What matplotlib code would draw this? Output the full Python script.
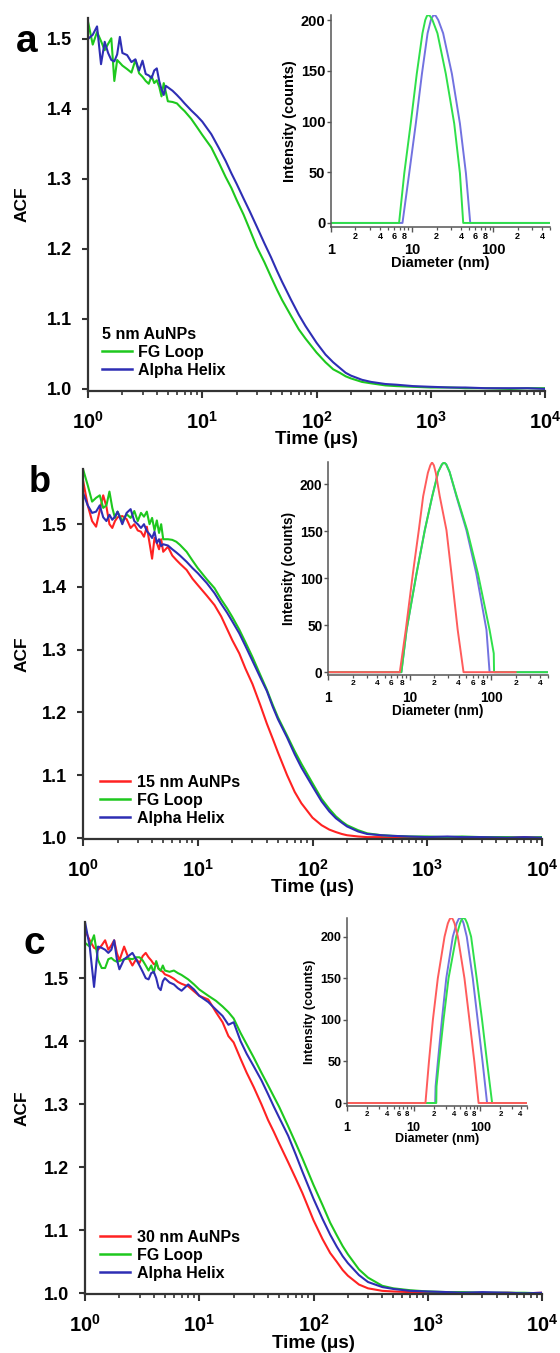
import numpy as np
import matplotlib
matplotlib.use('Agg')
import matplotlib.pyplot as plt
import matplotlib.ticker as mticker
from matplotlib.lines import Line2D

plt.rcParams['font.family'] = ['Liberation Sans', 'DejaVu Sans']
plt.rcParams['font.weight'] = 'bold'
plt.rcParams['axes.labelweight'] = 'bold'
plt.rcParams['mathtext.fontset'] = 'custom'
plt.rcParams['mathtext.rm'] = 'Liberation Sans:bold'
plt.rcParams['mathtext.bf'] = 'Liberation Sans:bold'
plt.rcParams['mathtext.it'] = 'Liberation Sans:bold'

W, H = 560, 1353

# lag time (us), shared by all ACF curves
t = [1.0, 1.1, 1.2, 1.3, 1.4, 1.5, 1.6, 1.7, 1.8, 1.9,
     2.0, 2.2, 2.4, 2.6, 2.8, 3.0, 3.2, 3.4, 3.6, 3.8,
     4.0, 4.2, 4.4, 4.6, 4.8, 5.0, 5.5, 6.0, 6.5, 7.0,
     8.0, 9.0, 10, 12, 14, 16, 18, 20, 23, 26,
     30, 35, 40, 45, 50, 60, 70, 80, 100, 120,
     140, 160, 180, 200, 250, 300, 400, 500, 700, 1000,
     1500, 2000, 3000, 5000, 7000, 10000]

# ---- panel a: 5 nm AuNPs
a_fg = [1.525, 1.492, 1.510, 1.497, 1.484, 1.493, 1.501, 1.440, 1.470, 1.466,
        1.462, 1.457, 1.452, 1.470, 1.451, 1.446, 1.440, 1.436, 1.447, 1.437,
        1.441, 1.432, 1.418, 1.437, 1.424, 1.411, 1.410, 1.408, 1.402, 1.397,
        1.386, 1.374, 1.363, 1.345, 1.323, 1.303, 1.287, 1.270, 1.249, 1.228,
        1.203, 1.181, 1.160, 1.142, 1.127, 1.104, 1.085, 1.072, 1.052, 1.038,
        1.028, 1.023, 1.018, 1.015, 1.010, 1.008, 1.005, 1.004, 1.003, 1.002,
        1.002, 1.001, 1.001, 1.000, 1.001, 1.001]
a_ah = [1.500, 1.506, 1.518, 1.464, 1.496, 1.480, 1.470, 1.468, 1.478, 1.503,
        1.480, 1.477, 1.467, 1.471, 1.455, 1.469, 1.450, 1.448, 1.444, 1.455,
        1.458, 1.440, 1.428, 1.420, 1.433, 1.431, 1.426, 1.420, 1.414, 1.408,
        1.398, 1.390, 1.382, 1.364, 1.344, 1.326, 1.308, 1.293, 1.272, 1.254,
        1.232, 1.208, 1.188, 1.169, 1.153, 1.127, 1.106, 1.090, 1.066, 1.049,
        1.038, 1.030, 1.023, 1.019, 1.013, 1.010, 1.007, 1.006, 1.004, 1.003,
        1.002, 1.002, 1.001, 1.001, 1.001, 1.000]

# ---- panel b: 15 nm AuNPs
b_np = [1.570, 1.530, 1.505, 1.496, 1.522, 1.546, 1.528, 1.500, 1.494, 1.505,
        1.511, 1.513, 1.508, 1.494, 1.500, 1.490, 1.488, 1.480, 1.496, 1.470,
        1.445, 1.478, 1.470, 1.460, 1.476, 1.456, 1.464, 1.450, 1.443, 1.437,
        1.427, 1.413, 1.403, 1.386, 1.371, 1.353, 1.333, 1.315, 1.294, 1.270,
        1.245, 1.212, 1.182, 1.158, 1.136, 1.100, 1.073, 1.055, 1.032, 1.020,
        1.013, 1.009, 1.006, 1.004, 1.002, 1.001, 1.001, 1.000, 1.001, 1.000,
        1.001, 1.000, 1.001, 1.000, 1.001, 1.000]
b_fg = [1.588, 1.562, 1.536, 1.542, 1.546, 1.526, 1.530, 1.552, 1.526, 1.510,
        1.520, 1.505, 1.516, 1.510, 1.521, 1.505, 1.518, 1.512, 1.520, 1.500,
        1.510, 1.490, 1.506, 1.486, 1.500, 1.476, 1.476, 1.475, 1.472, 1.467,
        1.456, 1.442, 1.430, 1.412, 1.398, 1.380, 1.366, 1.352, 1.332, 1.312,
        1.288, 1.260, 1.236, 1.212, 1.192, 1.163, 1.138, 1.118, 1.087, 1.062,
        1.046, 1.034, 1.026, 1.020, 1.012, 1.007, 1.004, 1.003, 1.002, 1.002,
        1.001, 1.002, 1.001, 1.001, 1.000, 1.001]
b_ah = [1.550, 1.530, 1.518, 1.520, 1.530, 1.511, 1.505, 1.515, 1.507, 1.512,
        1.520, 1.500, 1.518, 1.524, 1.505, 1.500, 1.494, 1.500, 1.489, 1.484,
        1.478, 1.488, 1.470, 1.476, 1.465, 1.468, 1.466, 1.460, 1.455, 1.450,
        1.440, 1.430, 1.422, 1.406, 1.390, 1.373, 1.359, 1.345, 1.326, 1.306,
        1.282, 1.256, 1.234, 1.209, 1.189, 1.160, 1.133, 1.112, 1.082, 1.058,
        1.042, 1.031, 1.024, 1.018, 1.010, 1.006, 1.004, 1.003, 1.002, 1.001,
        1.002, 1.001, 1.001, 1.000, 1.001, 1.000]

# ---- panel c: 30 nm AuNPs
c_np = [1.576, 1.560, 1.548, 1.545, 1.552, 1.560, 1.545, 1.552, 1.560, 1.540,
        1.528, 1.550, 1.532, 1.520, 1.530, 1.524, 1.535, 1.540, 1.533, 1.528,
        1.522, 1.524, 1.515, 1.512, 1.510, 1.506, 1.503, 1.499, 1.494, 1.491,
        1.487, 1.479, 1.472, 1.466, 1.446, 1.430, 1.408, 1.398, 1.372, 1.350,
        1.327, 1.300, 1.275, 1.256, 1.238, 1.208, 1.182, 1.159, 1.116, 1.086,
        1.064, 1.050, 1.037, 1.028, 1.014, 1.008, 1.004, 1.003, 1.002, 1.001,
        1.002, 1.001, 1.000, 1.001, 1.000, 1.001]
c_fg = [1.556, 1.550, 1.568, 1.529, 1.516, 1.516, 1.530, 1.532, 1.528, 1.526,
        1.527, 1.530, 1.531, 1.530, 1.533, 1.533, 1.528, 1.520, 1.512, 1.520,
        1.508, 1.527, 1.515, 1.512, 1.520, 1.512, 1.510, 1.512, 1.508, 1.505,
        1.498, 1.490, 1.482, 1.472, 1.464, 1.455, 1.446, 1.436, 1.413, 1.395,
        1.374, 1.350, 1.330, 1.312, 1.296, 1.265, 1.238, 1.214, 1.172, 1.140,
        1.112, 1.092, 1.075, 1.062, 1.038, 1.025, 1.012, 1.008, 1.005, 1.003,
        1.002, 1.002, 1.001, 1.001, 1.001, 1.000]
c_ah = [1.589, 1.550, 1.486, 1.550, 1.548, 1.545, 1.540, 1.545, 1.560, 1.530,
        1.514, 1.530, 1.535, 1.540, 1.530, 1.520, 1.510, 1.500, 1.498, 1.508,
        1.510, 1.500, 1.485, 1.481, 1.495, 1.500, 1.493, 1.490, 1.484, 1.480,
        1.490, 1.482, 1.472, 1.462, 1.450, 1.440, 1.426, 1.430, 1.400, 1.380,
        1.360, 1.338, 1.316, 1.296, 1.279, 1.250, 1.220, 1.193, 1.150, 1.118,
        1.093, 1.074, 1.059, 1.048, 1.029, 1.018, 1.010, 1.007, 1.004, 1.003,
        1.002, 1.001, 1.002, 1.001, 1.000, 1.001]

# ---- DLS size distributions (insets): diameter (nm), intensity (counts)
ia_fg_d = [1, 6.9, 8.0, 9.6, 11.4, 13.4, 14.5, 15.2, 15.8, 16.6, 17.8, 20.5, 26, 33, 38.8, 42.6, 500]
ia_fg_i = [0, 0, 49, 98, 147, 187, 200, 204, 205, 204, 200, 187, 147, 98, 49, 0, 0]
ia_ah_d = [1, 7.6, 9.2, 11.1, 13.2, 15.5, 17.0, 18.0, 18.7, 19.6, 21.0, 24.1, 30.9, 38.8, 46, 52, 500]
ia_ah_i = [0, 0, 49, 98, 147, 187, 200, 204, 205, 204, 200, 187, 147, 98, 49, 0, 0]

ib_np_d = [1, 7.6, 9.0, 11.0, 13.0, 14.7, 16.8, 18.0, 18.9, 19.9, 21.0, 23.5, 28.4, 32.7, 39, 46, 200]
ib_np_i = [0, 0, 45, 105, 151, 187, 212, 220, 223, 220, 212, 187, 151, 105, 45, 0, 0]
ib_fg_d = [1, 7.95, 9.2, 12.2, 15.4, 19.0, 22.5, 25.0, 26.5, 28.2, 31.0, 38.0, 51, 69, 96, 108, 109, 500]
ib_fg_i = [0, 0, 45, 105, 151, 187, 213, 221, 223, 221, 213, 187, 151, 105, 45, 20, 0, 0]
ib_ah_d = [1, 7.95, 9.2, 12.2, 15.4, 19.0, 22.5, 25.0, 26.5, 28.2, 31.0, 37.6, 49.9, 66, 87.9, 96, 500]
ib_ah_i = [0, 0, 45, 105, 151, 187, 213, 221, 223, 221, 213, 187, 151, 105, 45, 0, 0]

ic_np_d = [1, 15, 16.9, 19.4, 23, 29, 32.5, 34.6, 36.5, 38.6, 41, 45.9, 57.7, 68.5, 81.4, 94, 500]
ic_np_i = [0, 0, 49, 100, 150, 200, 216, 221, 223, 221, 216, 200, 150, 100, 49, 0, 0]
ic_fg_d = [1, 21.8, 22.0, 23.9, 28, 33.3, 43.4, 49.5, 52.5, 55.7, 59.5, 63.5, 72.6, 88, 106, 126, 150, 500]
ic_fg_i = [0, 0, 20, 49, 100, 150, 200, 216, 221, 223, 221, 216, 200, 150, 100, 49, 0, 0]
ic_ah_d = [1, 21, 21.3, 23, 26.5, 30.8, 38.6, 44, 47, 49.8, 53, 56, 62.5, 76.9, 91, 108, 126, 500]
ic_ah_i = [0, 0, 20, 49, 100, 150, 200, 216, 221, 223, 221, 216, 200, 150, 100, 49, 0, 0]

GREEN, BLUE, RED = '#1ec81e', '#2e2eb4', '#ff2222'
IGREEN, IBLUE, IRED = '#2fe04a', '#7272e0', '#ff5c5c'
AXC = '#333333'


def px_rect(l, tp, r, b):
    return [l / W, 1 - b / H, (r - l) / W, (b - tp) / H]


def fxy(x, y):
    return x / W, 1 - y / H


fig = plt.figure(figsize=(W / 100, H / 100), dpi=100)


def main_panel(box, ylim, series, legend_title, leg_anchor, letter, letter_xy, letter_fs):
    ax = fig.add_axes(px_rect(*box))
    for y, c, lab in series:
        ax.plot(t, y, color=c, lw=1.5, label=lab)
    ax.set_xscale('log')
    ax.set_xlim(1, 1e4)
    ax.set_ylim(*ylim)
    for s in ['top', 'right']:
        ax.spines[s].set_visible(False)
    for s in ['left', 'bottom']:
        ax.spines[s].set_linewidth(1.6)
        ax.spines[s].set_color(AXC)
    ax.set_yticks([1.0, 1.1, 1.2, 1.3, 1.4, 1.5])
    ax.yaxis.set_major_formatter(mticker.FormatStrFormatter('%.1f'))
    ax.xaxis.set_major_locator(mticker.LogLocator(base=10, numticks=10))
    ax.xaxis.set_minor_locator(mticker.LogLocator(base=10, subs=np.arange(2, 10), numticks=40))
    ax.xaxis.set_major_formatter(mticker.FuncFormatter(lambda v, p: r'$10^{%d}$' % round(np.log10(v))))
    ax.xaxis.set_minor_formatter(mticker.NullFormatter())
    ax.tick_params(axis='x', which='major', length=5, width=1.5, pad=9, labelsize=14.5, color=AXC)
    ax.tick_params(axis='x', which='minor', length=3, width=1.2, color=AXC)
    ax.tick_params(axis='y', which='major', length=4.5, width=1.5, pad=7, labelsize=13, color=AXC)

    x0, y0 = box[0], box[1]
    x1, y1 = box[2], box[3]
    fig.text(*fxy(22, (y0 + y1) / 2), 'ACF', rotation=90, ha='center', va='center', fontsize=12.5)
    fig.text(*fxy((x0 + x1) / 2, y1 + 49), 'Time (μs)', ha='center', va='center', fontsize=13.5)
    fig.text(*fxy(*letter_xy), letter, ha='center', va='center', fontsize=letter_fs)

    handles = [Line2D([], [], color=c, lw=1.8) for _, c, _ in series]
    labels = [lab for _, _, lab in series]
    if legend_title:
        ax.legend(handles, labels, title=legend_title, loc='lower left',
                  bbox_to_anchor=leg_anchor, frameon=False, fontsize=11.5,
                  title_fontproperties={'size': 11.5, 'weight': 'bold'},
                  handlelength=1.9, handletextpad=0.4, labelspacing=0.2,
                  borderpad=0, borderaxespad=0, alignment='left')
    else:
        ax.legend(handles, labels, loc='lower left', bbox_to_anchor=leg_anchor,
                  frameon=False, fontsize=11.5, handlelength=1.9, handletextpad=0.4,
                  labelspacing=0.2, borderpad=0, borderaxespad=0)
    return ax


def inset_panel(box, ylim, curves, fs):
    ax = fig.add_axes(px_rect(*box))
    for d, i, c in curves:
        ax.plot(d, i, color=c, lw=1.4)
    ax.set_xscale('log')
    ax.set_xlim(1, 500)
    ax.set_ylim(*ylim)
    for s in ['top', 'right']:
        ax.spines[s].set_visible(False)
    for s in ['left', 'bottom']:
        ax.spines[s].set_linewidth(1.1)
        ax.spines[s].set_color('#555555')
    ax.set_yticks([0, 50, 100, 150, 200])
    ax.xaxis.set_major_locator(mticker.FixedLocator([1, 10, 100]))
    ax.xaxis.set_major_formatter(mticker.FixedFormatter(['1', '10', '100']))
    ax.xaxis.set_minor_locator(mticker.LogLocator(base=10, subs=np.arange(2, 10), numticks=40))

    def minor_fmt(v, p):
        m = v / 10 ** np.floor(np.log10(v) + 1e-9)
        k = int(round(m))
        return str(k) if k in (2, 4, 6, 8) and v < 500 else ''
    ax.xaxis.set_minor_formatter(mticker.FuncFormatter(minor_fmt))
    ax.tick_params(axis='x', which='major', length=3.5, width=1.0, pad=8, labelsize=fs, color='#555555')
    ax.tick_params(axis='x', which='minor', length=2.2, width=0.9, pad=1.5, labelsize=fs * 0.62, color='#555555')
    ax.tick_params(axis='y', which='major', length=3, width=1.0, pad=1, labelsize=fs, color='#555555')
    ax.set_ylabel('Intensity (counts)', fontsize=fs, labelpad=3)
    ax.set_xlabel('Diameter (nm)', fontsize=fs, labelpad=-1)
    return ax


# panel a
main_panel((88, 18, 545, 391), (0.997, 1.53),
           [(a_fg, GREEN, 'FG Loop'), (a_ah, BLUE, 'Alpha Helix')],
           '5 nm AuNPs', (0.03, 0.035), 'a', (27, 42), 28)
inset_panel((331, 15, 550, 227), (-4, 205),
            [(ia_ah_d, ia_ah_i, IBLUE), (ia_fg_d, ia_fg_i, IGREEN)], 10.5)

# panel b
main_panel((83, 469, 542, 839), (0.998, 1.588),
           [(b_np, RED, '15 nm AuNPs'), (b_fg, GREEN, 'FG Loop'), (b_ah, BLUE, 'Alpha Helix')],
           None, (0.037, 0.035), 'b', (40, 483), 26)
inset_panel((328, 462, 548, 675), (-3, 223.5),
            [(ib_ah_d, ib_ah_i, IBLUE), (ib_fg_d, ib_fg_i, IGREEN), (ib_np_d, ib_np_i, IRED)], 9.8)

# panel c
main_panel((85, 922, 542, 1294), (0.999, 1.589),
           [(c_np, RED, '30 nm AuNPs'), (c_fg, GREEN, 'FG Loop'), (c_ah, BLUE, 'Alpha Helix')],
           None, (0.033, 0.035), 'c', (34, 944), 28)
inset_panel((347, 918, 527, 1106), (-3.6, 222.5),
            [(ic_ah_d, ic_ah_i, IBLUE), (ic_fg_d, ic_fg_i, IGREEN), (ic_np_d, ic_np_i, IRED)], 9.0)

fig.savefig('out.png', dpi=100, facecolor='white')
